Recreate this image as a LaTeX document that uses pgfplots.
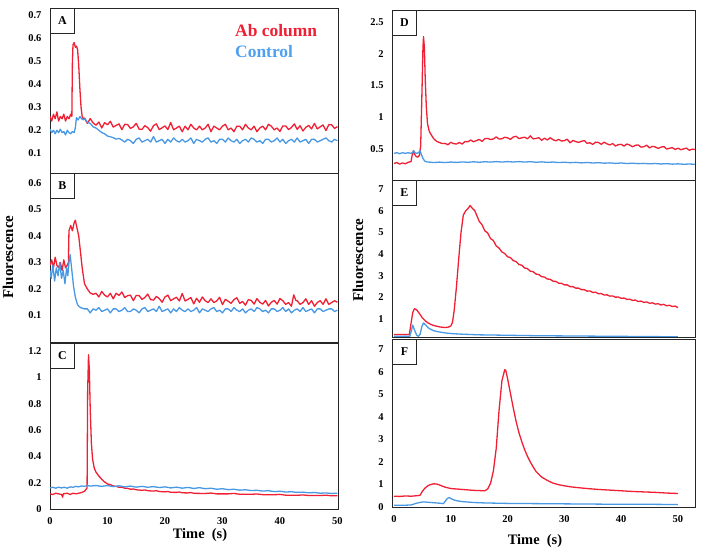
\documentclass[border=0pt]{standalone}
\usepackage{fontspec}
\setmainfont{Liberation Serif}
\usepackage{pgfplots}
\pgfplotsset{compat=1.18}
\definecolor{rd}{RGB}{240,32,52}
\definecolor{bl}{RGB}{72,152,228}
\definecolor{blt}{RGB}{80,160,240}
\pgfplotsset{
 panel/.style={scale only axis, axis line style={line width=0.9bp, black!85},
   tick style={draw=none}, ticklabel style={font=\bfseries\fontsize{10.5}{12}\selectfont},
   /pgf/number format/assume math mode=true,
   yticklabel style={xshift=-5bp}, xticklabel style={yshift=-5bp},
   every axis plot/.append style={line width=1.3bp, line join=round}},
 lpanel/.style={panel, width=288bp, xmin=0, xmax=50.1},
 rpanel/.style={panel, width=303bp, xmin=-0.35, xmax=53},
}
\newcommand\plabel[1]{\node[draw=black!85, line width=0.9bp, fill=white, anchor=north west, minimum width=24bp, minimum height=25bp, inner sep=0pt, font=\bfseries\fontsize{12}{14}\selectfont] at (rel axis cs:0,1) {#1};}
\begin{document}
\begin{tikzpicture}
\useasboundingbox (0,0) rectangle (715bp,-553bp);
% ---------------- A ----------------
\begin{axis}[lpanel, at={(50bp,-8bp)}, anchor=north west, height=165bp,
  ymin=0.015, ymax=0.73, ytick={0.1,0.2,0.3,0.4,0.5,0.6,0.7}, xtick=\empty]
\addplot[rd] coordinates {(0,0.26)(0.3,0.24)(0.6,0.27)(0.9,0.25)(1.2,0.28)(1.5,0.24)(1.8,0.26)(2.1,0.25)(2.4,0.27)(2.7,0.24)(3.0,0.26)(3.3,0.25)(3.6,0.27)(3.8,0.26)(3.9,0.50)(4.0,0.57)(4.2,0.58)(4.4,0.56)(4.6,0.565)(4.8,0.55)(5.0,0.48)(5.2,0.38)(5.4,0.30)(5.6,0.26)(5.8,0.25)
(6,0.253)(6.5,0.230)(7,0.251)(7.5,0.232)(8,0.222)(8.5,0.236)(9,0.210)(9.5,0.233)(10,0.224)(10.5,0.239)(11,0.214)(11.5,0.221)(12,0.228)(12.5,0.203)(13,0.226)(13.5,0.225)(14,0.208)(14.5,0.215)(15,0.230)(15.5,0.205)(16,0.204)(16.5,0.220)(17,0.212)(17.5,0.196)(18,0.220)(18.5,0.228)(19,0.203)(19.5,0.211)(20,0.219)(20.5,0.203)(21,0.234)(21.5,0.202)(22,0.210)(22.5,0.218)(23,0.194)(23.5,0.218)(24,0.202)(24.5,0.226)(25,0.210)(25.5,0.202)(26,0.218)(26.5,0.202)(27,0.210)(27.5,0.226)(28,0.194)(28.5,0.218)(29,0.210)(29.5,0.202)(30,0.218)(30.5,0.226)(31,0.202)(31.5,0.210)(32,0.194)(32.5,0.218)(33,0.218)(33.5,0.202)(34,0.226)(34.5,0.210)(35,0.202)(35.5,0.218)(36,0.194)(36.5,0.210)(37,0.218)(37.5,0.202)(38,0.226)(38.5,0.218)(39,0.202)(39.5,0.210)(40,0.195)(40.5,0.219)(41,0.219)(41.5,0.203)(42,0.212)(42.5,0.228)(43,0.204)(43.5,0.220)(44,0.197)(44.5,0.213)(45,0.221)(45.5,0.206)(46,0.230)(46.5,0.206)(47,0.215)(47.5,0.223)(48,0.199)(48.5,0.224)(49,0.224)(49.5,0.208)(50,0.216)};
\addplot[bl] coordinates {(0,0.205)(0.3,0.19)(0.6,0.20)(0.9,0.185)(1.2,0.2)(1.5,0.19)(1.8,0.205)(2.1,0.19)(2.4,0.195)(2.7,0.18)(3.0,0.2)(3.3,0.19)(3.6,0.185)(3.9,0.195)(4.2,0.19)(4.4,0.21)(4.6,0.255)(4.9,0.245)(5.2,0.26)(5.5,0.25)(5.8,0.245)(6.1,0.25)(6.5,0.235)(7,0.23)(7.5,0.215)(8,0.21)(8.5,0.20)(9,0.19)(9.5,0.185)(10,0.175)(10.5,0.172)(11,0.168)(11.5,0.162)(12,0.165)(12.5,0.158)
(13,0.149)(13.5,0.161)(14,0.155)(14.5,0.143)(15,0.161)(15.5,0.167)(16,0.149)(16.5,0.155)(17,0.161)(17.5,0.149)(18,0.173)(18.5,0.149)(19,0.155)(19.5,0.161)(20,0.143)(20.5,0.161)(21,0.149)(21.5,0.167)(22,0.155)(22.5,0.149)(23,0.161)(23.5,0.149)(24,0.155)(24.5,0.167)(25,0.143)(25.5,0.161)(26,0.155)(26.5,0.149)(27,0.161)(27.5,0.167)(28,0.149)(28.5,0.155)(29,0.143)(29.5,0.161)(30,0.161)(30.5,0.149)(31,0.167)(31.5,0.155)(32,0.149)(32.5,0.161)(33,0.143)(33.5,0.155)(34,0.161)(34.5,0.149)(35,0.167)(35.5,0.161)(36,0.149)(36.5,0.155)(37,0.143)(37.5,0.161)(38,0.161)(38.5,0.149)(39,0.155)(39.5,0.167)(40,0.149)(40.5,0.161)(41,0.143)(41.5,0.155)(42,0.161)(42.5,0.149)(43,0.167)(43.5,0.149)(44,0.155)(44.5,0.161)(45,0.143)(45.5,0.161)(46,0.161)(46.5,0.149)(47,0.155)(47.5,0.161)(48,0.167)(48.5,0.155)(49,0.149)(49.5,0.161)(50,0.155)};
\plabel{A}
\end{axis}
% ---------------- B ----------------
\begin{axis}[lpanel, at={(50bp,-173bp)}, anchor=north west, height=169bp,
  ymin=0, ymax=0.638, ytick={0.1,0.2,0.3,0.4,0.5,0.6}, xtick=\empty]
\addplot[rd] coordinates {(0,0.29)(0.3,0.31)(0.6,0.28)(0.9,0.32)(1.2,0.29)(1.5,0.28)(1.8,0.30)(2.1,0.27)(2.4,0.31)(2.7,0.28)(3.0,0.29)(3.2,0.30)(3.3,0.42)(3.6,0.44)(3.9,0.42)(4.2,0.45)(4.4,0.46)(4.7,0.43)(5.0,0.40)(5.3,0.34)(5.6,0.28)(6.0,0.22)(6.5,0.20)(7,0.185)(7.5,0.18)
(8,0.184)(8.5,0.170)(9,0.191)(9.5,0.177)(10,0.170)(10.5,0.184)(11,0.163)(11.5,0.184)(12,0.176)(12.5,0.189)(13,0.168)(13.5,0.175)(14,0.177)(14.5,0.156)(15,0.176)(15.5,0.175)(16,0.161)(16.5,0.168)(17,0.181)(17.5,0.160)(18,0.158)(18.5,0.172)(19,0.164)(19.5,0.150)(20,0.170)(20.5,0.177)(21,0.156)(21.5,0.163)(22,0.169)(22.5,0.155)(23,0.183)(23.5,0.155)(24,0.161)(24.5,0.168)(25,0.144)(25.5,0.165)(26,0.150)(26.5,0.170)(27,0.156)(27.5,0.149)(28,0.163)(28.5,0.149)(29,0.155)(29.5,0.169)(30,0.141)(30.5,0.161)(31,0.154)(31.5,0.146)(32,0.160)(32.5,0.167)(33,0.146)(33.5,0.153)(34,0.139)(34.5,0.160)(35,0.157)(35.5,0.143)(36,0.164)(36.5,0.150)(37,0.143)(37.5,0.157)(38,0.136)(38.5,0.150)(39,0.157)(39.5,0.143)(40,0.164)(40.5,0.156)(41,0.142)(41.5,0.149)(42,0.135)(42.4,0.178)(42.8,0.156)(43,0.156)(43.5,0.142)(44,0.149)(44.5,0.163)(45,0.142)(45.5,0.156)(46,0.135)(46.5,0.149)(47,0.156)(47.5,0.142)(48,0.163)(48.5,0.142)(49,0.149)(49.5,0.156)(50,0.150)};
\addplot[bl] coordinates {(0,0.27)(0.2,0.24)(0.5,0.29)(0.8,0.23)(1.1,0.28)(1.4,0.25)(1.7,0.30)(2.0,0.24)(2.3,0.27)(2.6,0.22)(2.9,0.28)(3.1,0.25)(3.3,0.30)(3.5,0.33)(3.8,0.27)(4.1,0.21)(4.4,0.17)(4.8,0.14)(5.3,0.13)(6,0.125)
(6.5,0.125)(7,0.110)(7.5,0.125)(8,0.120)(8.5,0.130)(9,0.115)(9.5,0.120)(10,0.125)(10.5,0.110)(11,0.125)(11.5,0.125)(12,0.115)(12.5,0.120)(13,0.130)(13.5,0.115)(14,0.115)(14.5,0.125)(15,0.120)(15.5,0.110)(16,0.125)(16.5,0.130)(17,0.115)(17.5,0.120)(18,0.125)(18.5,0.115)(19,0.135)(19.5,0.115)(20,0.120)(20.5,0.125)(21,0.110)(21.5,0.125)(22,0.115)(22.5,0.130)(23,0.120)(23.5,0.115)(24,0.125)(24.5,0.115)(25,0.120)(25.5,0.130)(26,0.110)(26.5,0.125)(27,0.120)(27.5,0.115)(28,0.125)(28.5,0.130)(29,0.115)(29.5,0.120)(30,0.110)(30.5,0.125)(31,0.125)(31.5,0.115)(32,0.130)(32.5,0.120)(33,0.115)(33.5,0.125)(34,0.110)(34.5,0.120)(35,0.125)(35.5,0.115)(36,0.130)(36.5,0.125)(37,0.115)(37.5,0.120)(38,0.110)(38.5,0.125)(39,0.125)(39.5,0.115)(40,0.120)(40.5,0.130)(41,0.115)(41.5,0.125)(42,0.110)(42.5,0.120)(43,0.125)(43.5,0.115)(44,0.130)(44.5,0.115)(45,0.120)(45.5,0.125)(46,0.110)(46.5,0.125)(47,0.125)(47.5,0.115)(48,0.120)(48.5,0.125)(49,0.125)(49.5,0.115)(50,0.120)};
\plabel{B}
\end{axis}
% ---------------- C ----------------
\begin{axis}[lpanel, at={(50bp,-343bp)}, anchor=north west, height=166bp,
  ymin=0, ymax=1.26, ytick={0,0.2,0.4,0.6,0.8,1,1.2}, xtick={0,10,20,30,40,50}]
\addplot[rd] coordinates {(0,0.115)(0.5,0.11)(1,0.12)(1.5,0.115)(2,0.11)(2.2,0.09)(2.3,0.115)(3,0.12)(3.5,0.11)(4,0.12)(4.5,0.115)(5,0.12)(5.5,0.125)(6,0.135)(6.3,0.15)(6.45,0.16)(6.55,0.9)(6.7,1.17)(6.85,1.05)(7.0,0.75)(7.2,0.5)(7.4,0.38)(7.7,0.31)(8,0.28)(8.5,0.25)(9,0.225)(9.5,0.205)(10,0.19)(10.5,0.185)(11,0.175)(11.5,0.172)(12,0.165)(12.5,0.166)(13,0.158)(13.5,0.157)(14,0.15)(14.5,0.152)(15,0.146)(16,0.142)(16.5,0.145)(17,0.139)(18,0.136)(18.5,0.139)(19,0.133)(20,0.13)(20.5,0.133)(21,0.127)(22,0.126)(22.5,0.129)(23,0.123)(24,0.122)(24.5,0.125)(25,0.119)(27,0.118)(28,0.121)(29,0.115)(31,0.115)(32,0.118)(33,0.112)(35,0.112)(36,0.114)(37,0.109)(39,0.108)(40,0.111)(41,0.105)(43,0.104)(44,0.107)(45,0.102)(47,0.102)(48,0.105)(49,0.100)(50,0.1)};
\addplot[bl] coordinates {(0,0.16)(0.5,0.165)(1,0.158)(1.5,0.166)(2,0.16)(2.5,0.165)(3,0.158)(3.5,0.168)(4,0.165)(4.5,0.172)(5,0.168)(5.5,0.175)(6,0.172)(6.5,0.178)(7,0.174)(8,0.178)(9,0.172)(10,0.178)(11,0.17)(12,0.176)(13,0.168)(14,0.174)(15,0.166)(16,0.172)(17,0.165)(18,0.17)(19,0.163)(20,0.168)(21,0.16)(22,0.166)(23,0.158)(24,0.164)(25,0.156)(26,0.162)(27,0.154)(28,0.158)(29,0.15)(30,0.154)(31,0.147)(32,0.15)(33,0.143)(34,0.146)(35,0.14)(36,0.142)(37,0.136)(38,0.139)(39,0.132)(40,0.135)(41,0.129)(42,0.131)(43,0.126)(44,0.128)(45,0.123)(46,0.125)(47,0.12)(48,0.122)(49,0.118)(50,0.12)};
\plabel{C}
\end{axis}
% ---------------- D ----------------
\begin{axis}[rpanel, at={(392bp,-10bp)}, anchor=north west, height=170bp,
  ymin=0.01, ymax=2.69, ytick={0.5,1,1.5,2,2.5}, xtick=\empty]
\addplot[rd] coordinates {(0,0.27)(0.5,0.285)(1,0.26)(1.5,0.28)(2,0.265)(2.5,0.29)(3,0.3)(3.2,0.4)(3.4,0.47)(3.6,0.42)(3.9,0.38)(4.2,0.37)(4.5,0.4)(4.7,0.55)(4.9,1.3)(5.1,2.1)(5.2,2.27)(5.35,2.1)(5.5,1.6)(5.7,1.15)(5.9,0.9)(6.2,0.78)(6.5,0.73)(7,0.66)(7.5,0.62)(8,0.6)(8.5,0.585)
(9,0.587)(9.5,0.565)(10,0.604)(10.5,0.583)(11,0.577)(11.5,0.602)(12,0.576)(12.5,0.617)(13,0.612)(13.5,0.640)(14,0.613)(14.5,0.630)(15,0.650)(15.5,0.618)(16,0.662)(16.5,0.666)(17,0.648)(17.5,0.657)(18,0.689)(18.5,0.656)(19,0.660)(19.5,0.684)(20,0.675)(20.5,0.651)(21,0.688)(21.5,0.699)(22,0.663)(22.5,0.675)(23,0.685)(23.5,0.660)(24,0.706)(24.5,0.658)(25,0.665)(25.5,0.677)(26,0.636)(26.5,0.669)(27,0.641)(27.5,0.676)(28,0.645)(28.5,0.628)(29,0.650)(29.5,0.625)(30,0.630)(30.5,0.654)(31,0.596)(31.5,0.634)(32,0.615)(32.5,0.603)(33,0.620)(33.5,0.632)(34,0.588)(34.5,0.597)(35,0.571)(35.5,0.607)(36,0.602)(36.5,0.573)(37,0.606)(37.5,0.580)(38,0.563)(38.5,0.584)(39,0.546)(39.5,0.567)(40,0.572)(40.5,0.545)(41,0.577)(41.5,0.562)(42,0.533)(42.5,0.557)(43,0.563)(43.5,0.528)(44,0.535)(44.5,0.559)(45,0.516)(45.5,0.540)(46,0.532)(46.5,0.508)(47,0.527)(47.5,0.539)(48,0.498)(48.5,0.510)(49,0.521)(49.5,0.491)(50,0.512)(50.5,0.488)(51,0.500)(51.5,0.513)(52,0.478)(52.5,0.497)(53,0.490)};
\addplot[bl] coordinates {(0,0.43)(0.5,0.44)(1,0.425)(1.5,0.44)(2,0.43)(2.5,0.44)(3,0.43)(3.3,0.445)(3.5,0.47)(3.7,0.44)(4,0.43)(4.3,0.44)(4.6,0.47)(4.8,0.42)(5.1,0.35)(5.4,0.31)(5.8,0.295)(6.5,0.29)(7,0.285)(8,0.292)(9,0.285)(10,0.293)(11,0.287)(12,0.295)(13,0.289)(14,0.297)(15,0.29)(16,0.298)(17,0.292)(18,0.3)(19,0.293)(20,0.3)(21,0.294)(22,0.3)(23,0.293)(24,0.298)(25,0.29)(26,0.296)(27,0.288)(28,0.293)(29,0.285)(30,0.29)(31,0.283)(32,0.288)(33,0.28)(34,0.286)(35,0.278)(36,0.283)(37,0.275)(38,0.28)(39,0.272)(40,0.278)(41,0.27)(42,0.275)(43,0.268)(44,0.272)(45,0.265)(46,0.27)(47,0.263)(48,0.268)(49,0.26)(50,0.265)(51,0.258)(52,0.262)(53,0.258)};
\plabel{D}
\end{axis}
% ---------------- E ----------------
\begin{axis}[rpanel, at={(392bp,-180bp)}, anchor=north west, height=157bp,
  ymin=0.17, ymax=7.43, ytick={1,2,3,4,5,6,7}, xtick=\empty]
\addplot[rd] coordinates {(0,0.28)(1,0.29)(2,0.28)(2.7,0.29)(3.0,0.8)(3.3,1.3)(3.6,1.48)(4,1.42)(4.5,1.25)(5,1.05)(5.5,0.92)(6,0.82)(6.5,0.75)(7,0.70)(7.5,0.67)(8,0.64)(8.5,0.62)(9,0.61)(9.5,0.62)(10,0.68)(10.3,0.85)(10.6,1.4)(11,2.5)(11.4,3.8)(11.8,5.0)(12.2,5.8)(12.6,6.0)
(13,6.1)(13.4,6.25)(13.8,6.12)(14.2,6.02)(14.6,5.78)(15,5.52)(15.5,5.36)(16,5.08)(16.5,4.98)(17,4.72)(17.5,4.63)(18,4.38)(18.5,4.28)(19,4.1)(19.5,4.03)(20,3.88)(20.5,3.84)(21,3.70)(21.5,3.66)(22,3.52)(22.5,3.49)(23,3.36)(23.5,3.33)(24,3.21)(24.5,3.19)(25,3.08)(25.5,3.06)(26,2.96)(26.5,2.94)(27,2.85)(27.5,2.84)(28,2.75)(28.5,2.74)(29,2.66)(29.5,2.65)(30,2.58)(30.5,2.58)(31,2.5)(31.5,2.5)(32,2.43)(32.5,2.43)(33,2.36)(33.5,2.36)(34,2.29)(34.5,2.3)(35,2.23)(35.5,2.24)(36,2.17)(36.5,2.18)(37,2.11)(37.5,2.12)(38,2.06)(38.5,2.07)(39,2.01)(39.5,2.02)(40,1.96)(40.5,1.97)(41,1.91)(41.5,1.92)(42,1.86)(42.5,1.88)(43,1.81)(43.5,1.83)(44,1.77)(44.5,1.79)(45,1.73)(45.5,1.75)(46,1.69)(46.5,1.71)(47,1.65)(47.5,1.68)(48,1.61)(48.5,1.64)(49,1.58)(49.5,1.6)(50,1.53)};
\addplot[bl] coordinates {(0,0.2)(1,0.2)(2,0.2)(2.8,0.21)(3.1,0.5)(3.3,0.72)(3.6,0.5)(4.0,0.25)(4.3,0.2)(4.6,0.3)(4.9,0.65)(5.2,0.82)(5.6,0.72)(6,0.6)(6.5,0.52)(7,0.46)(8,0.4)(9,0.36)(10,0.33)(12,0.3)(15,0.27)(20,0.25)(25,0.23)(30,0.22)(35,0.21)(40,0.2)(45,0.19)(50,0.18)};
\plabel{E}
\end{axis}
% ---------------- F ----------------
\begin{axis}[rpanel, at={(392bp,-339bp)}, anchor=north west, height=168bp,
  ymin=0, ymax=7.46, ytick={0,1,2,3,4,5,6,7}, xtick={0,10,20,30,40,50}]
\addplot[rd] coordinates {(0,0.48)(1,0.47)(2,0.49)(3,0.48)(4,0.5)(4.6,0.52)(5,0.7)(5.5,0.85)(6,0.95)(6.5,1.0)(7,1.03)(7.5,1.02)(8,0.98)(8.5,0.93)(9,0.88)(9.5,0.85)(10,0.82)(11,0.8)(12,0.78)(13,0.76)(14,0.74)(15,0.73)(16,0.72)(16.5,0.8)(17,1.05)(17.5,1.6)(18,2.6)(18.5,4.3)(19,5.6)(19.5,6.1)(19.7,6.05)(20,5.7)(20.5,5.05)(21,4.4)(21.5,3.8)(22,3.3)(22.5,2.9)(23,2.55)(23.5,2.25)(24,2.0)(24.5,1.78)(25,1.58)(25.5,1.45)(26,1.33)(27,1.18)(28,1.06)(29,0.99)(30,0.94)(31,0.9)(32,0.87)(34,0.82)(36,0.78)(38,0.75)(40,0.72)(42,0.69)(44,0.67)(46,0.65)(48,0.62)(50,0.6)};
\addplot[bl] coordinates {(0,0.08)(2,0.08)(3,0.09)(3.5,0.13)(4,0.17)(4.5,0.2)(5,0.22)(5.5,0.22)(6,0.21)(7,0.19)(8,0.17)(8.7,0.15)(9,0.25)(9.4,0.38)(9.7,0.42)(10,0.38)(10.5,0.32)(11,0.28)(12,0.24)(13,0.22)(14,0.2)(16,0.18)(20,0.16)(25,0.15)(30,0.14)(35,0.13)(40,0.12)(45,0.12)(50,0.11)};
\plabel{F}
\end{axis}
% ---------------- text ----------------
\node[anchor=west, text=rd, font=\bfseries\fontsize{17.5}{20}\selectfont, inner sep=0pt] at (235bp,-31bp) {Ab column};
\node[anchor=west, text=blt, font=\bfseries\fontsize{17.5}{20}\selectfont, inner sep=0pt] at (235bp,-52bp) {Control};
\node[rotate=90, font=\bfseries\fontsize{15}{17}\selectfont] at (8bp,-257bp) {Fluorescence};
\node[rotate=90, font=\bfseries\fontsize{15}{17}\selectfont] at (358bp,-260bp) {Fluorescence};
\node[font=\bfseries\fontsize{14.5}{16}\selectfont] at (200bp,-535bp) {Time\ \ (s)};
\node[font=\bfseries\fontsize{14.5}{16}\selectfont] at (535bp,-541bp) {Time\ \ (s)};
\end{tikzpicture}
\end{document}
